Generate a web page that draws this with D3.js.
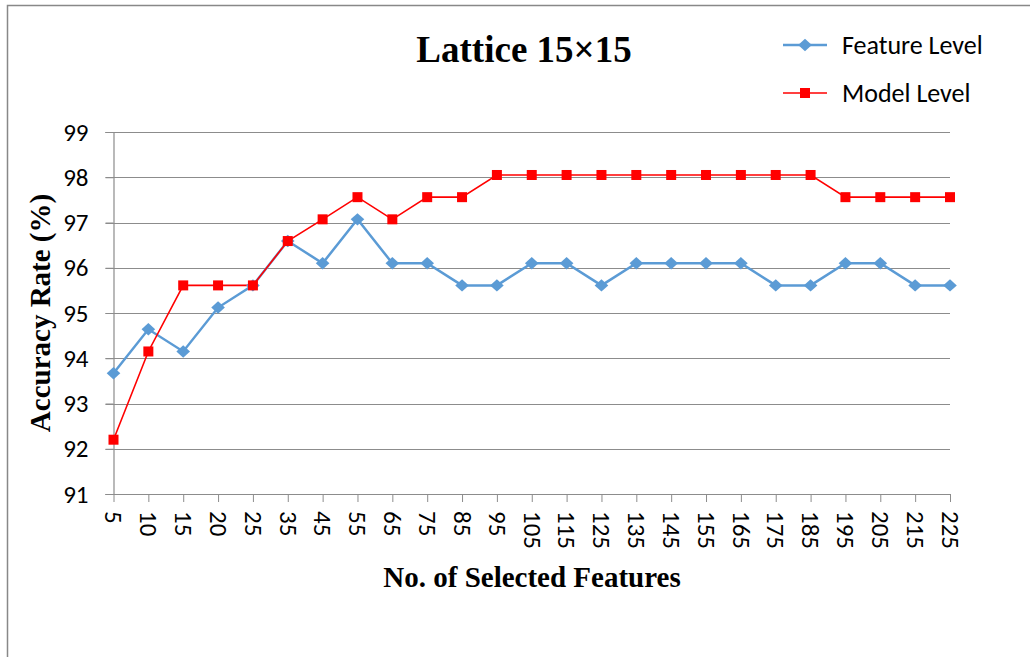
<!DOCTYPE html>
<html>
<head>
<meta charset="utf-8">
<script src="https://cdn.jsdelivr.net/npm/d3@7"></script>
<style>
  body { margin: 0; background: #fff; }
  svg text { fill: #000; }
</style>
</head>
<body>
<svg id="chart" width="1030" height="657"></svg>
<script>
var features = ['5','10','15','20','25','35','45','55','65','75','85','95','105','115','125','135','145','155','165','175','185','195','205','215','225'];
var featureLevel = [93.67,94.64,94.15,95.12,95.61,96.59,96.10,97.07,96.10,96.10,95.61,95.61,96.10,96.10,95.61,96.10,96.10,96.10,96.10,95.61,95.61,96.10,96.10,95.61,95.61];
var modelLevel = [92.20,94.15,95.61,95.61,95.61,96.59,97.07,97.56,97.07,97.56,97.56,98.05,98.05,98.05,98.05,98.05,98.05,98.05,98.05,98.05,98.05,97.56,97.56,97.56,97.56];
var yTicks = [91,92,93,94,95,96,97,98,99];

(function(){
    var svg = d3.select('#chart'),
        left = 113.5,
        right = 950,
        top = 132,
        bottom = 494;

    // outer frame (only top and left edges visible)
    svg.append('path')
        .attr('d', 'M7.5,657 L7.5,5.5 L1030,5.5')
        .attr('fill', 'none')
        .attr('stroke', '#888')
        .attr('stroke-width', 1.5);

    var x = d3.scalePoint().domain(features).range([left, right]);
    var y = d3.scaleLinear().domain([91, 99]).range([bottom, top]);

    // gridlines
    svg.append('g')
        .selectAll('line')
        .data(yTicks)
        .enter().append('line')
        .attr('x1', left - 8)
        .attr('x2', right)
        .attr('y1', function(d) { return Math.round(y(d)) + 0.5; })
        .attr('y2', function(d) { return Math.round(y(d)) + 0.5; })
        .attr('stroke', '#8c8c8c')
        .attr('stroke-width', 1.2);

    // y axis
    var yAxis = svg.append('g')
        .attr('transform', 'translate(' + left + ',0)')
        .call(d3.axisLeft(y).tickValues(yTicks).tickSize(8).tickPadding(17));
    yAxis.select('.domain').attr('stroke', '#8c8c8c').attr('stroke-width', 1.2);
    yAxis.selectAll('.tick line').attr('stroke', '#8c8c8c');
    yAxis.selectAll('text')
        .style('font-family', 'Carlito, Calibri, "Liberation Sans", sans-serif')
        .style('font-size', '25px');

    // x axis
    var xAxis = svg.append('g')
        .attr('transform', 'translate(0,' + bottom + ')')
        .call(d3.axisBottom(x).tickSize(8).tickSizeOuter(0));
    xAxis.select('.domain').attr('stroke', '#8c8c8c').attr('stroke-width', 1.2);
    xAxis.selectAll('.tick line').attr('stroke', '#8c8c8c');
    xAxis.selectAll('text')
        .style('font-family', 'Carlito, Calibri, "Liberation Sans", sans-serif')
        .style('font-size', '25px')
        .attr('text-anchor', 'start')
        .attr('dy', '0.35em')
        .attr('x', 0)
        .attr('y', 0)
        .attr('transform', 'translate(0,17) rotate(90)');

    // series
    var line = d3.line()
        .x(function(d, i) { return x(features[i]); })
        .y(function(d) { return y(d); });

    svg.append('path')
        .datum(featureLevel)
        .attr('fill', 'none')
        .attr('stroke', '#5b9bd5')
        .attr('stroke-width', 2.5)
        .attr('d', line);

    svg.append('path')
        .datum(modelLevel)
        .attr('fill', 'none')
        .attr('stroke', '#ff0000')
        .attr('stroke-width', 1.6)
        .attr('d', line);

    var diamond = d3.symbol().type(d3.symbolDiamond2).size(98);

    svg.append('g')
        .selectAll('path')
        .data(featureLevel)
        .enter().append('path')
        .attr('d', diamond)
        .attr('transform', function(d, i) {
            return 'translate(' + x(features[i]) + ',' + y(d) + ') scale(1.1,1)';
        })
        .attr('fill', '#5b9bd5');

    svg.append('g')
        .selectAll('rect')
        .data(modelLevel)
        .enter().append('rect')
        .attr('x', function(d, i) { return x(features[i]) - 5; })
        .attr('y', function(d) { return y(d) - 5; })
        .attr('width', 10)
        .attr('height', 10)
        .attr('fill', '#ff0000');

    // title
    svg.append('text')
        .attr('x', 524)
        .attr('y', 62)
        .attr('text-anchor', 'middle')
        .style('font-family', '"Liberation Serif", "Times New Roman", serif')
        .style('font-weight', 'bold')
        .style('font-size', '37px')
        .text('Lattice 15×15');

    // axis titles
    svg.append('text')
        .attr('transform', 'translate(50,313) rotate(-90)')
        .attr('text-anchor', 'middle')
        .style('font-family', '"Liberation Serif", "Times New Roman", serif')
        .style('font-weight', 'bold')
        .style('font-size', '29px')
        .text('Accuracy Rate (%)');

    svg.append('text')
        .attr('x', 532)
        .attr('y', 587)
        .attr('text-anchor', 'middle')
        .style('font-family', '"Liberation Serif", "Times New Roman", serif')
        .style('font-weight', 'bold')
        .style('font-size', '29px')
        .text('No. of Selected Features');

    // legend
    var legend = [
        { name: 'Feature Level', color: '#5b9bd5', width: 2.5, y: 45, shape: 'diamond' },
        { name: 'Model Level', color: '#ff0000', width: 1.6, y: 93, shape: 'square' }
    ];
    var lg = svg.append('g')
        .selectAll('g')
        .data(legend)
        .enter().append('g')
        .attr('transform', function(d) { return 'translate(0,' + d.y + ')'; });
    lg.append('line')
        .attr('x1', 783).attr('x2', 827)
        .attr('stroke', function(d) { return d.color; })
        .attr('stroke-width', function(d) { return d.width; });
    lg.filter(function(d) { return d.shape === 'diamond'; })
        .append('path')
        .attr('d', diamond)
        .attr('transform', 'translate(805,0) scale(1.1,1)')
        .attr('fill', function(d) { return d.color; });
    lg.filter(function(d) { return d.shape === 'square'; })
        .append('rect')
        .attr('x', 800).attr('y', -5).attr('width', 10).attr('height', 10)
        .attr('fill', function(d) { return d.color; });
    lg.append('text')
        .attr('x', 842)
        .attr('dy', '0.35em')
        .style('font-family', 'Carlito, Calibri, "Liberation Sans", sans-serif')
        .style('font-size', '26px')
        .text(function(d) { return d.name; });
})();
</script>
</body>
</html>
